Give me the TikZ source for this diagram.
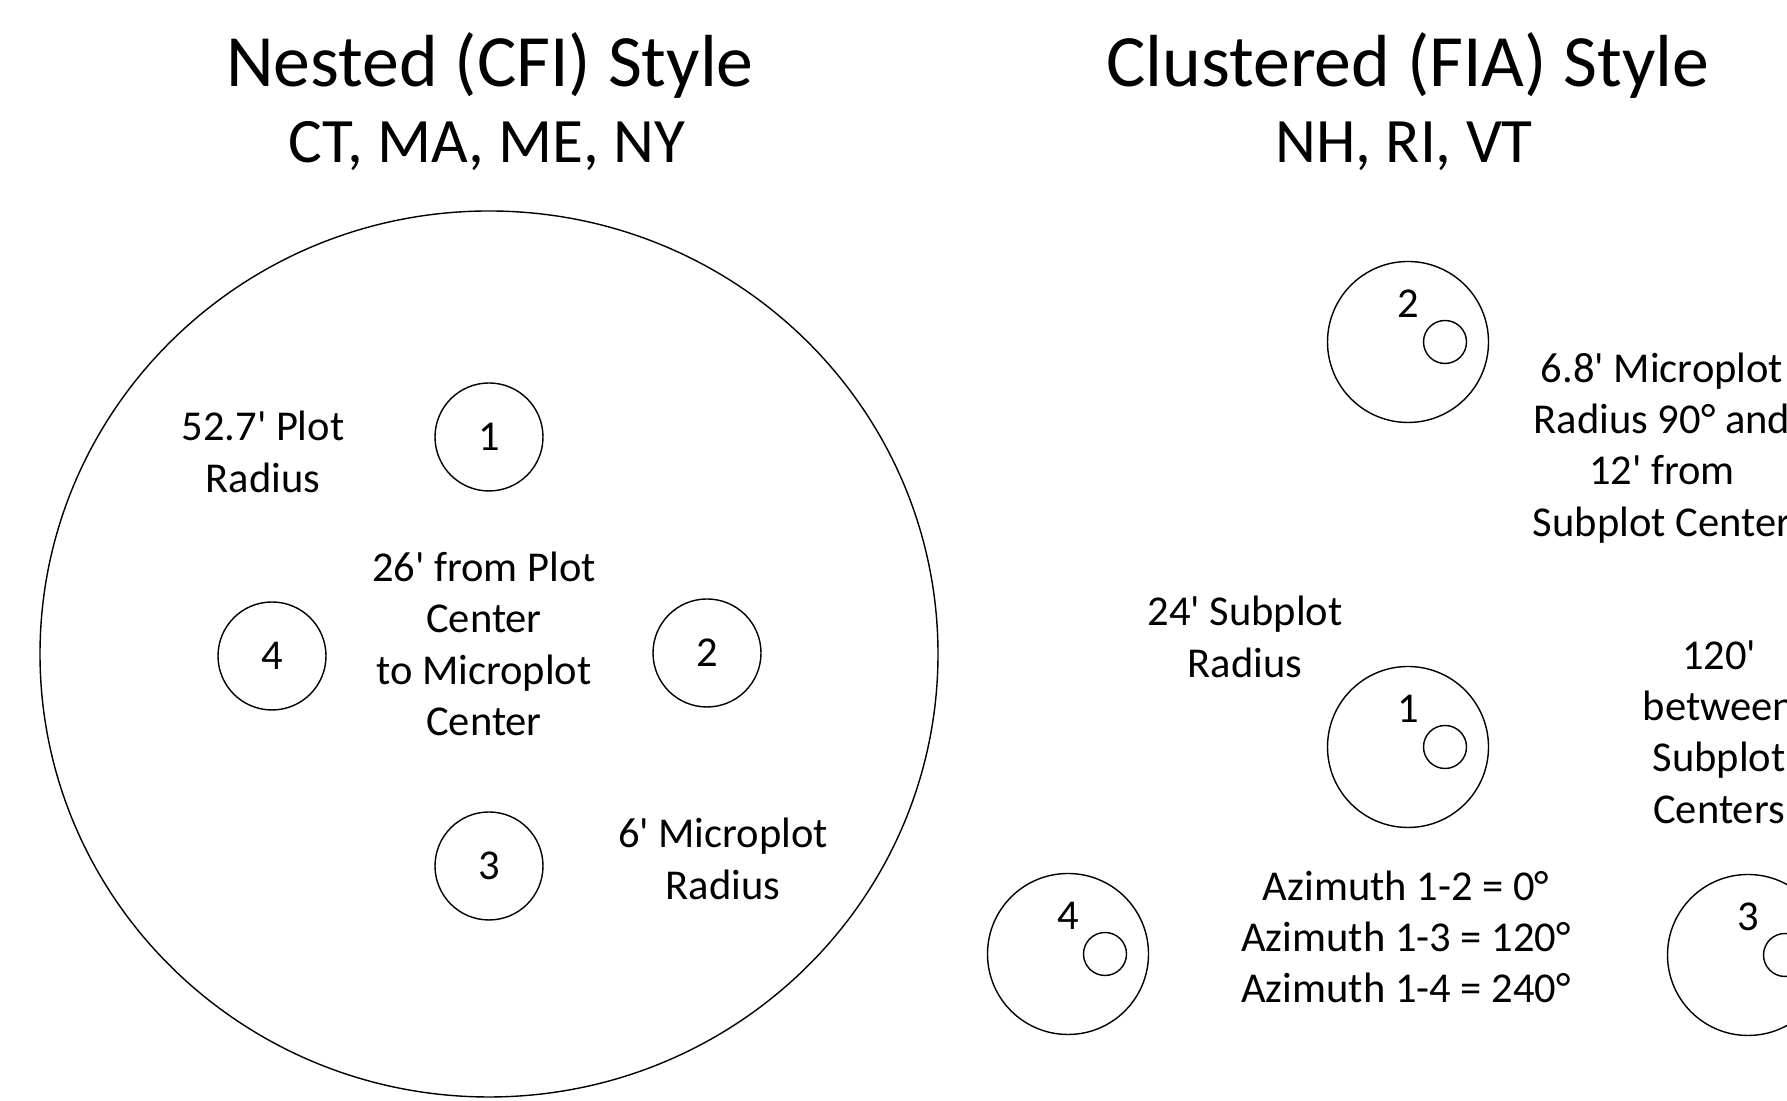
\documentclass[tikz,border=0pt]{standalone}
\usepackage{fontspec}
\setmainfont{Carlito}
\usepackage{tikz}
\usetikzlibrary{calc}
\usetikzlibrary{positioning}
\usetikzlibrary{shapes.geometric}

\newcommand{\ft}{\textquotesingle}

\tikzset{
	nestplot/.style={circle, draw, inner sep=0pt, minimum size=1.08cm},
	subplot/.style={circle, draw, inner sep=0pt, minimum size=1.61cm},
	microplot/.style={circle, draw, inner sep=0pt, minimum size=0.43cm},
	txt/.style={align=center, font=\fontsize{12.1}{14.6}\selectfont},
	ttl/.style={font=\fontsize{21}{25}\selectfont},
	subttl/.style={font=\fontsize{18}{22}\selectfont}
}

\begin{document}
\begin{tikzpicture}
				\useasboundingbox (0,0) rectangle (17.87,11.01);
				\clip (0,0) rectangle (17.87,11.01);
				
				% nested layout
				\node[ttl] (TL) at (4.90,10.36) {Nested (CFI) Style};
				\node[subttl] (SL) at (4.87,9.55) {CT, MA, ME, NY};
				
				\node[ellipse, draw, inner sep=0pt, minimum width=8.98cm, minimum height=8.86cm] (P) at (4.89,4.47) {};
				\node[nestplot, txt] (N1) at (4.89,6.64) {1};
				\node[nestplot, txt] (N2) at (7.07,4.48) {2};
				\node[nestplot, txt] (N3) at (4.89,2.35) {3};
				\node[nestplot, txt] (N4) at (2.72,4.45) {4};
				
				\node[txt] (plotrad) at (2.63,6.49) {52.7\ft{} Plot\\Radius};
				\node[txt] (dist) at (4.84,4.57) {26\ft{} from Plot\\Center\\to Microplot\\Center};
				\node[txt] (microrad) at (7.23,2.42) {6\ft{} Microplot\\Radius};
				
				% clustered layout
				\node[ttl] (TR) at (14.08,10.36) {Clustered (FIA) Style};
				\node[subttl] (SR) at (14.04,9.55) {NH, RI, VT};
				
				\node[subplot] (S1) at (14.08,3.54) {};
				\node[subplot] (S2) at (14.08,7.59) {};
				\node[subplot] (S3) at (17.48,1.46) {};
				\node[subplot] (S4) at (10.68,1.47) {};
				
				\foreach \s in {1,2,3,4} {
					\node[microplot] (M\s) at ($(S\s.center)+(0.37,0)$) {};
					\node[txt] (n\s) at ($(S\s.center)+(0,0.38)$) {\s};
				}
				
				\node[txt] (microtxt) at (16.62,6.53) {6.8\ft{} Microplot\\Radius 90° and\\12\ft{} from\\Subplot Center};
				\node[txt] (between) at (17.19,3.69) {120\ft\\between\\Subplot\\Centers};
				\node[txt] (subrad) at (12.45,4.64) {24\ft{} Subplot\\Radius};
				\node[txt] (azim) at (14.06,1.64) {Azimuth 1-2 = 0°\\Azimuth 1-3 = 120°\\Azimuth 1-4 = 240°};
			\end{tikzpicture}
\end{document}
